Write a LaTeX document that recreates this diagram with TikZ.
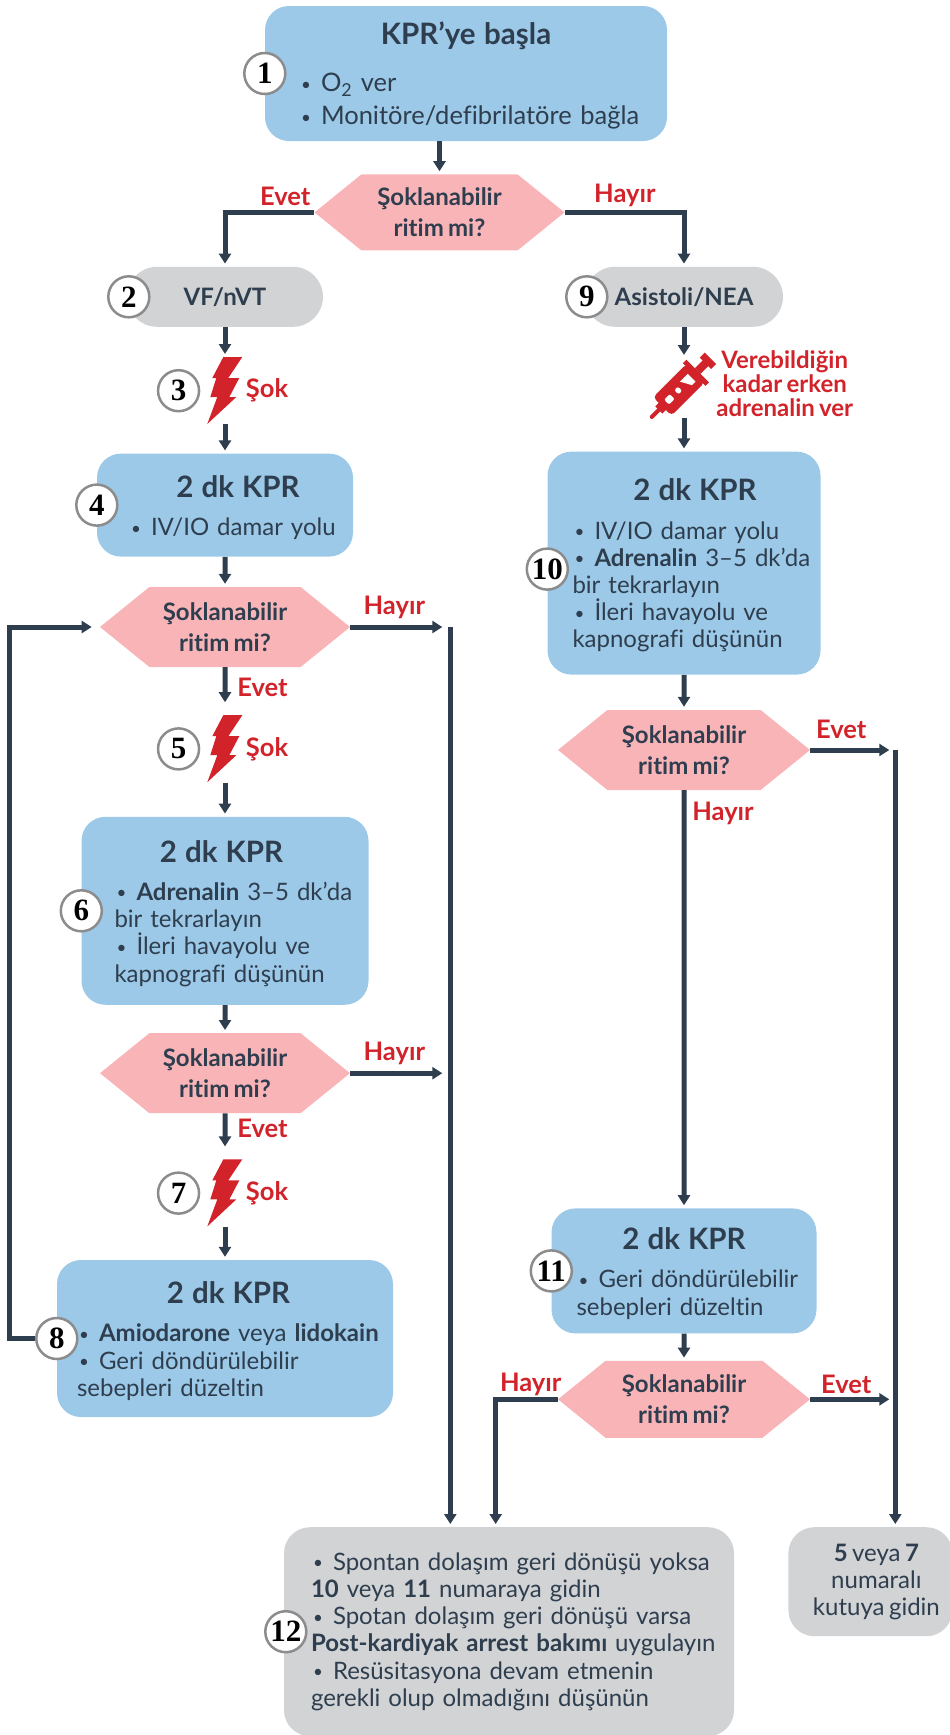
\documentclass[tikz,border=0pt]{standalone}
\usepackage{fontspec}
\setmainfont{Lato}[WordSpace=0.72,Ligatures=NoCommon]
\newfontfamily\numfont{Liberation Serif}
\usetikzlibrary{shapes.symbols,arrows.meta,positioning}
\definecolor{boxblue}{HTML}{9CC9E8}
\definecolor{decpink}{HTML}{F9B4B8}
\definecolor{endgray}{HTML}{D2D3D5}
\definecolor{inkdark}{HTML}{2E3E4E}
\definecolor{shockred}{HTML}{D2232A}
\newcommand{\itm}[1]{\mbox{\makebox[22pt][l]{\hspace*{2pt}\raisebox{1.5pt}{\fontsize{17}{17}\selectfont\textbullet}}#1}}
\newcommand{\kprhead}[2][0pt]{\rule{0pt}{27pt}\makebox[\linewidth][c]{\hspace*{#1}\fontsize{29.5}{32}\selectfont\bfseries #2}}
\tikzset{
  boltpic/.pic={\fill[shockred] (16,0) -- (35,0) -- (21,21) -- (32,21) -- (22,40) -- (29,40) -- (0,67) -- (10,40) -- (3,40) -- (9,21) -- (5,21) -- cycle;},
  syringepic/.pic={
    \draw[shockred, line width=4pt, line cap=round] (2,0) -- (16,0);
    \fill[shockred] (12,-5) rectangle (20,5);
    \fill[shockred, rounded corners=4pt] (17,-13) rectangle (64,13);
    \fill[shockred] (62,-16) rectangle (67,16);
    \fill[shockred] (67,-4) rectangle (79,4);
    \fill[shockred] (78,-8) rectangle (85,8);
    \fill[white, rounded corners=2pt] (23,-3.5) rectangle (31,3.5);
    \fill[white, rounded corners=2pt] (37,-3) rectangle (42,3);
    \fill[white] (47,-5) -- (58,-5) -- (58,6) -- (53,6) -- cycle;
  }
}
\begin{document}
\begin{tikzpicture}[x=1pt, y=-1pt,
    font=\fontsize{24}{27.2}\selectfont\color{inkdark},
    kprbox/.style={rectangle, fill=boxblue, rounded corners=24pt, align=left, inner ysep=0pt},
    endbox/.style={rectangle, fill=endgray, rounded corners=26pt, align=left, inner ysep=0pt},
    rhythmbox/.style={rectangle, fill=endgray, rounded corners=30pt, minimum height=60pt, font=\fontsize{24}{28}\selectfont\bfseries\color{inkdark}},
    decbox/.style={signal, signal to=west and east, signal pointer angle=78, fill=decpink, minimum width=250pt, minimum height=80pt, inner sep=0pt, align=center, font=\fontsize{24}{31}\selectfont\bfseries\color{inkdark}},
    numc/.style={circle, draw=black!45, fill=white, line width=2.5pt, minimum size=41pt, inner sep=0pt, font=\numfont\fontsize{31}{31}\selectfont\bfseries\color{black}},
    redlabel/.style={font=\fontsize{25.5}{24}\selectfont\bfseries\color{shockred}, inner sep=0pt, align=center},
    boltbox/.style={minimum width=35pt, minimum height=67pt, inner sep=0pt},
    arrow/.style={-{Stealth[width=12pt,length=10pt,inset=0pt]}, line width=5pt, draw=inkdark, shorten >=3pt}
  ]
  \useasboundingbox (0,0) rectangle (950,1735);

  % top of the chart
  \node[kprbox, text width=334pt, inner xsep=34pt, minimum height=135pt, font=\fontsize{25.5}{27.2}\selectfont\color{inkdark}] (start) at (466,73.5) {\kprhead{KPR’ye başla}\\[20pt]\itm{O\textsubscript{2} ver}\\[6pt]\itm{Monitöre/defibrilatöre bağla}};
  \node[decbox, minimum height=76pt, below=33pt of start, xshift=-26.5pt] (dec1) {Şoklanabilir\\ritim mi?};
  \node[rhythmbox, minimum width=196pt, below=16pt of dec1, xshift=-214.5pt] (vf) {VF/nVT};
  \node[rhythmbox, minimum width=198pt, below=16pt of dec1, xshift=244.5pt] (asis) {Asistoli/NEA};

  % left column
  \node[boltbox, below=30pt of vf] (bolt1) {};
  \node[kprbox, text width=192pt, inner xsep=32pt, minimum height=103pt, below=29pt of bolt1] (box4) {\kprhead[26pt]{2 dk KPR}\\[11pt]\itm{IV/IO damar yolu}};
  \node[decbox, below=30pt of box4] (dec2) {Şoklanabilir\\ritim mi?};
  \node[boltbox, below=48pt of dec2] (bolt2) {};
  \node[kprbox, text width=221pt, inner xsep=33pt, minimum height=188pt, below=34pt of bolt2] (box6) {\kprhead[-7pt]{2 dk KPR}\\[11pt]\itm{\textbf{Adrenalin} 3–5 dk’da}\\bir tekrarlayın\\\itm{İleri havayolu ve}\\\mbox{kapnografi düşünün}};
  \node[decbox, below=28pt of box6] (dec3) {Şoklanabilir\\ritim mi?};
  \node[boltbox, below=46pt of dec3] (bolt3) {};
  \node[kprbox, text width=296pt, inner xsep=20pt, minimum height=157pt, below=33pt of bolt3] (box8) {\kprhead[7pt]{2 dk KPR}\\[11pt]\itm{\textbf{Amiodarone} veya \textbf{lidokain}}\\\itm{Geri döndürülebilir}\\\mbox{sebepleri düzeltin}};

  % right column
  \node[minimum width=67pt, minimum height=60pt, inner sep=0pt, below=31pt of asis] (syr) {};
  \node[kprbox, text width=223pt, inner xsep=25pt, minimum height=223pt, below=33pt of syr] (box10) {\kprhead[22pt]{2 dk KPR}\\[11pt]\itm{IV/IO damar yolu}\\\itm{\textbf{Adrenalin} 3–5 dk’da}\\bir tekrarlayın\\\itm{İleri havayolu ve}\\\mbox{kapnografi düşünün}};
  \node[decbox, minimum width=252pt, below=35pt of box10] (dec4) {Şoklanabilir\\ritim mi?};
  \node[kprbox, text width=215pt, inner xsep=25pt, minimum height=125pt, below=418pt of dec4] (box11) {\kprhead{2 dk KPR}\\[11pt]\itm{Geri döndürülebilir}\\\mbox{sebepleri düzeltin}};
  \node[decbox, minimum width=252pt, minimum height=77pt, below=27pt of box11] (dec5) {Şoklanabilir\\ritim mi?};

  % bottom boxes
  \node[endbox, text width=396pt, inner xsep=27pt, minimum height=209pt, below=89pt of dec5, xshift=-175pt] (box12) {\itm{Spontan dolaşım geri dönüşü yoksa}\\\mbox{\textbf{10} veya \textbf{11} numaraya gidin}\\\itm{Spotan dolaşım geri dönüşü varsa}\\\mbox{\textbf{Post-kardiyak arrest bakımı} uygulayın}\\\itm{Resüsitasyona devam etmenin}\\\mbox{gerekli olup olmadığını düşünün}};
  \node[endbox, align=center, anchor=north west, minimum width=164pt, minimum height=109pt] (goto) at ([xshift=54pt]box12.north east) {\hspace*{12pt}\textbf{5} veya \textbf{7}\\\hspace*{12pt}numaralı\\\hspace*{12pt}kutuya gidin};

  % pictures
  \pic at (bolt1.north west) {boltpic};
  \pic at (bolt2.north west) {boltpic};
  \pic at (bolt3.north west) {boltpic};
  \pic[rotate=45] at (syr.south west) {syringepic};

  % rails
  \coordinate (loopx) at ([xshift=-90pt]dec2.west);
  \coordinate (leftrail) at ([xshift=100pt]dec2.east);
  \coordinate (rightrail) at ([xshift=85pt]dec4.east);
  \coordinate (hayirx) at ([xshift=-62pt]dec5.west);

  % connectors
  \draw[arrow] (start.south -| dec1.north) -- (dec1.north);
  \draw[arrow] (dec1.west) -| (vf.north);
  \draw[arrow] (dec1.east) -| (asis.north);
  \draw[arrow] (vf) -- (bolt1);
  \draw[arrow] (bolt1) -- (box4);
  \draw[arrow] (box4) -- (dec2);
  \draw[arrow, shorten >=13pt] (dec2) -- (bolt2);
  \draw[arrow] (bolt2) -- (box6);
  \draw[arrow] (box6) -- (dec3);
  \draw[arrow, shorten >=13pt] (dec3) -- (bolt3);
  \draw[arrow] (bolt3) -- (box8);
  \draw[arrow] (asis) -- (syr);
  \draw[arrow] (syr) -- (box10);
  \draw[arrow] (box10) -- (dec4);
  \draw[arrow] (dec4) -- (box11);
  \draw[arrow] (box11) -- (dec5);
  \draw[arrow, shorten >=8pt] (dec2.east) -- (leftrail);
  \draw[arrow, shorten >=8pt] (dec3.east) -- (dec3.east -| leftrail);
  \draw[arrow] (leftrail) -- (leftrail |- box12.north);
  \draw[arrow, shorten >=6pt] (dec4.east) -- (rightrail);
  \draw[arrow, shorten >=6pt] (dec5.east) -- (dec5.east -| rightrail);
  \draw[arrow] (rightrail) -- (rightrail |- goto.north);
  \draw[arrow] (dec5.west) -| (hayirx |- box12.north);

  % number circles
  \node[numc] (n1) at (start.west) {1};
  \node[numc] (n2) at ([xshift=2pt]vf.west) {2};
  \node[numc, left=7pt of bolt1] (n3) {3};
  \node[numc] (n4) at (box4.west) {4};
  \node[numc, left=7pt of bolt2] (n5) {5};
  \node[numc] (n6) at (box6.west) {6};
  \node[numc, left=7pt of bolt3] (n7) {7};
  \node[numc] (n8) at (box8.west) {8};
  \node[numc] (n9) at ([xshift=2pt]asis.west) {9};
  \node[numc] (n10) at ([yshift=-6pt]box10.west) {10};
  \node[numc] (n11) at (box11.west) {11};
  \node[numc] (n12) at ([xshift=2pt]box12.west) {12};
  \draw[arrow, shorten >=8pt] (n8.west) -| (loopx) -- (dec2.west);

  % labels
  \node[redlabel] (evet1) at ([shift={(-29,-16)}]dec1.west) {Evet};
  \node[redlabel] (hayir1) at ([shift={(60,-17)}]dec1.east) {Hayır};
  \node[redlabel] (evet2) at ([shift={(37.5,20)}]dec2.south) {Evet};
  \node[redlabel] (hayir2) at ([shift={(44,-20)}]dec2.east) {Hayır};
  \node[redlabel] (evet3) at ([shift={(37.5,15)}]dec3.south) {Evet};
  \node[redlabel] (hayir3) at ([shift={(44,-20)}]dec3.east) {Hayır};
  \node[redlabel] (evet4) at ([shift={(31,-21)}]dec4.east) {Evet};
  \node[redlabel] (hayir4) at ([shift={(39,23)}]dec4.south) {Hayır};
  \node[redlabel] (evet5) at ([shift={(36,-15)}]dec5.east) {Evet};
  \node[redlabel] (hayir5) at ([shift={(-27,-15)}]dec5.west) {Hayır};
  \node[redlabel, right=3pt of bolt1] (sok1) {Şok};
  \node[redlabel, right=3pt of bolt2] (sok2) {Şok};
  \node[redlabel, right=3pt of bolt3] (sok3) {Şok};
  \node[redlabel, font=\fontsize{24}{24}\selectfont\bfseries\color{shockred}] (adrlabel) at ([shift={(67,-5)}]syr.east) {Verebildiğin\\kadar erken\\adrenalin ver};
\end{tikzpicture}
\end{document}
